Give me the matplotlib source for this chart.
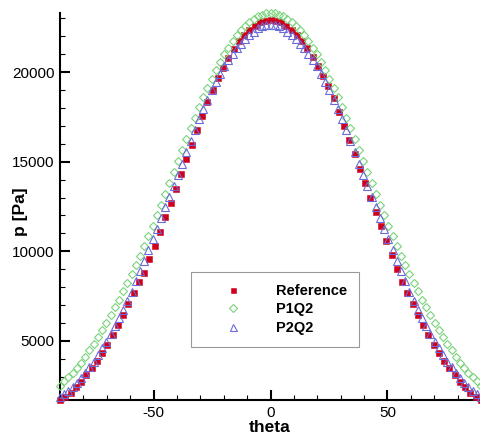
import matplotlib
matplotlib.use("Agg")
import matplotlib.pyplot as plt
from matplotlib.ticker import MultipleLocator

plt.rcParams['font.family'] = ['Liberation Sans', 'DejaVu Sans']
plt.rcParams['axes.unicode_minus'] = False

# ---- data ----
theta_ref = [-90, -87.75, -85.5, -83.25, -81, -78.75, -76.5, -74.25, -72, -69.75,
             -67.5, -65.25, -63, -60.75, -58.5, -56.25, -54, -51.75, -49.5, -47.25,
             -45, -42.75, -40.5, -38.25, -36, -33.75, -31.5, -29.25, -27, -24.75,
             -22.5, -20.25, -18, -15.75, -13.5, -11.25, -9, -6.75, -4.5, -2.25,
             0,
             2.25, 4.5, 6.75, 9, 11.25, 13.5, 15.75, 18, 20.25, 22.5,
             24.75, 27, 29.25, 31.5, 33.75, 36, 38.25, 40.5, 42.75, 45,
             47.25, 49.5, 51.75, 54, 56.25, 58.5, 60.75, 63, 65.25, 67.5,
             69.75, 72, 74.25, 76.5, 78.75, 81, 83.25, 85.5, 87.75, 90]
p_ref = [1700, 1880, 2110, 2400, 2710, 3070, 3460, 3860, 4300, 4790,
         5320, 5870, 6450, 7050, 7660, 8300, 8800, 9550, 10300, 11100,
         11900, 12700, 13500, 14320, 15130, 15950, 16750, 17550, 18320, 19020,
         19660, 20240, 20810, 21300, 21730, 22070, 22360, 22600, 22770, 22870,
         22900,
         22870, 22770, 22600, 22360, 22070, 21730, 21320, 20870, 20360, 19810,
         19200, 18540, 17800, 17020, 16230, 15430, 14620, 13810, 13000, 12200,
         11400, 10600, 9800, 9000, 8300, 7660, 7050, 6450, 5870, 5320,
         4790, 4300, 3860, 3460, 3070, 2710, 2400, 2110, 1880, 1700]

theta_q = [-90, -88.2, -86.4, -84.6, -82.8, -81, -79.2, -77.4, -75.6, -73.8,
           -72, -70.2, -68.4, -66.6, -64.8, -63, -61.2, -59.4, -57.6, -55.8,
           -54, -52.2, -50.4, -48.6, -46.8, -45, -43.2, -41.4, -39.6, -37.8,
           -36, -34.2, -32.4, -30.6, -28.8, -27, -25.2, -23.4, -21.6, -19.8,
           -18, -16.2, -14.4, -12.6, -10.8, -9, -7.2, -5.4, -3.6, -1.8,
           0,
           1.8, 3.6, 5.4, 7.2, 9, 10.8, 12.6, 14.4, 16.2, 18,
           19.8, 21.6, 23.4, 25.2, 27, 28.8, 30.6, 32.4, 34.2, 36,
           37.8, 39.6, 41.4, 43.2, 45, 46.8, 48.6, 50.4, 52.2, 54,
           55.8, 57.6, 59.4, 61.2, 63, 64.8, 66.6, 68.4, 70.2, 72,
           73.8, 75.6, 77.4, 79.2, 81, 82.8, 84.6, 86.4, 88.2, 90]

p_p1q2 = [2500, 2740, 2970, 3210, 3500, 3790, 4110, 4470, 4830, 5210,
          5610, 6010, 6440, 6870, 7300, 7770, 8240, 8720, 9240, 9750,
          10290, 10860, 11420, 12010, 12610, 13200, 13810, 14420, 15040, 15650,
          16260, 16860, 17460, 18050, 18600, 19120, 19640, 20100, 20550, 20990,
          21350, 21710, 22070, 22340, 22580, 22790, 22950, 23120, 23210, 23290,
          23300,
          23290, 23210, 23120, 22950, 22790, 22580, 22340, 22070, 21710, 21350,
          20990, 20550, 20100, 19640, 19120, 18600, 18050, 17460, 16860, 16260,
          15650, 15040, 14420, 13810, 13200, 12610, 12010, 11420, 10860, 10290,
          9750, 9240, 8720, 8240, 7770, 7300, 6870, 6440, 6010, 5610,
          5210, 4830, 4470, 4110, 3790, 3500, 3210, 2970, 2740, 2500]

p_p2q2 = [1850, 2030, 2210, 2410, 2660, 2910, 3190, 3520, 3840, 4200,
          4580, 4960, 5380, 5820, 6250, 6740, 7230, 7740, 8320, 8890,
          9480, 10070, 10670, 11260, 11860, 12450, 13040, 13640, 14240, 14890,
          15540, 16170, 16780, 17400, 17950, 18470, 18990, 19450, 19900, 20340,
          20680, 21020, 21330, 21590, 21840, 22060, 22260, 22440, 22560, 22635,
          22650,
          22635, 22560, 22440, 22260, 22060, 21840, 21590, 21330, 21020, 20680,
          20340, 19900, 19450, 18990, 18470, 17950, 17400, 16780, 16170, 15540,
          14890, 14240, 13640, 13040, 12450, 11860, 11260, 10670, 10070, 9480,
          8890, 8320, 7740, 7230, 6740, 6250, 5820, 5380, 4960, 4580,
          4200, 3840, 3520, 3190, 2910, 2660, 2410, 2210, 2030, 1850]

labels = ["Reference", "P1Q2", "P2Q2"]
x_ticks = [-50, 0, 50]
y_ticks = [5000, 10000, 15000, 20000]

# ---- figure ----
fig = plt.figure(figsize=(4.8, 4.38), dpi=100)
ax = fig.add_axes([60 / 480, 38 / 438, 421 / 480, 387 / 438])

ax.plot(theta_ref, p_ref, linestyle='none', marker='s', markersize=4.0,
        color='#d0001c', markeredgewidth=0.4, label=labels[0], clip_on=False, zorder=3)
ax.plot(theta_q, p_p1q2, linestyle='none', marker='D', markersize=4.2,
        markerfacecolor='none', markeredgecolor='#7ad47a', markeredgewidth=0.8,
        label=labels[1], clip_on=False, zorder=4)
ax.plot(theta_q, p_p2q2, linestyle='none', marker='^', markersize=5.6,
        markerfacecolor='none', markeredgecolor='#6a6ad8', markeredgewidth=0.8,
        label=labels[2], clip_on=False, zorder=5)

ax.set_xlim(-90, 90)
ax.set_ylim(1700, 23300)
ax.set_xticks(x_ticks)
ax.set_yticks(y_ticks)
ax.xaxis.set_minor_locator(MultipleLocator(10))
ax.yaxis.set_minor_locator(MultipleLocator(1000))

for s in ['top', 'right']:
    ax.spines[s].set_visible(False)
for s in ['left', 'bottom']:
    ax.spines[s].set_linewidth(1.5)
    ax.spines[s].set_color('black')

ax.tick_params(which='major', direction='in', length=7, width=1.5,
               labelsize=11, pad=4, top=False, right=False)
ax.tick_params(which='minor', direction='in', length=3.6, width=0.8,
               top=False, right=False)

fig.text(270 / 480, (438 - 427) / 438, 'theta', ha='center', va='center',
         fontsize=12.5, fontweight='bold')
fig.text(20 / 480, (438 - 212) / 438, 'p [Pa]', ha='center', va='center',
         rotation=90, fontsize=12.5, fontweight='bold')

leg = ax.legend(loc='upper left', bbox_to_anchor=(191 / 480, (438 - 272) / 438),
                bbox_transform=fig.transFigure, borderaxespad=0,
                prop={'weight': 'bold', 'size': 10.5},
                handlelength=4.2, handletextpad=0.85, borderpad=0.8,
                labelspacing=0.33, fancybox=False, framealpha=1,
                edgecolor='#999999', markerscale=0.9)
leg.get_frame().set_linewidth(0.8)

fig.savefig('out.png', dpi=100)
